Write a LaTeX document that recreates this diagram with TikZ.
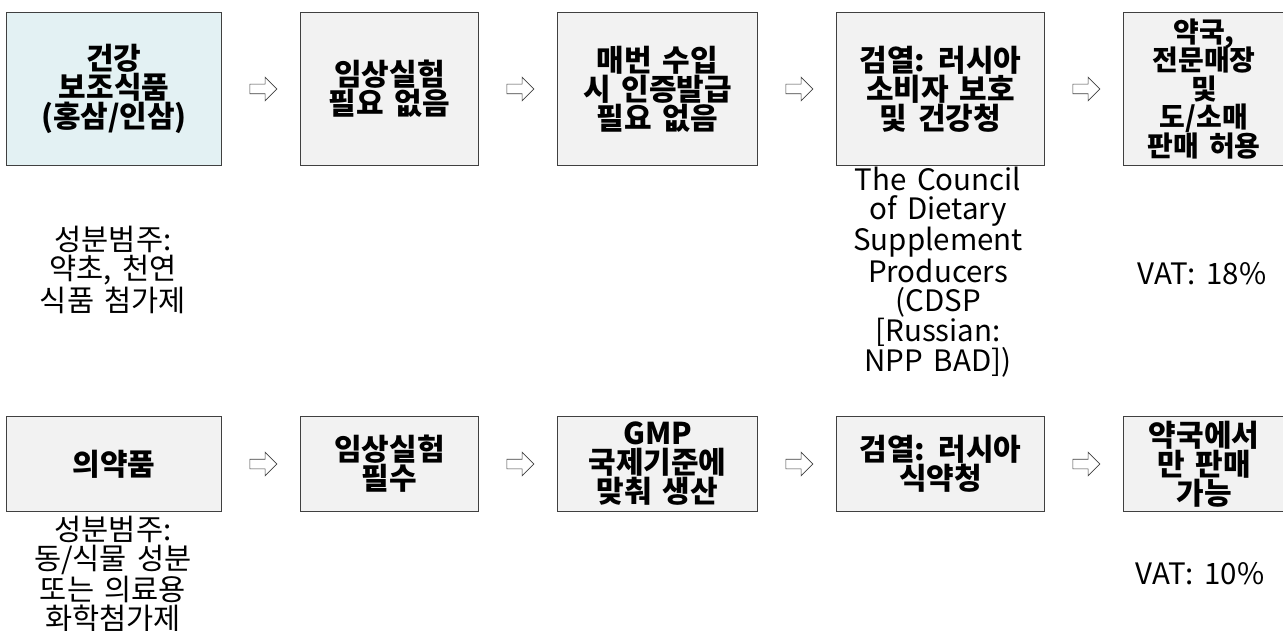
\documentclass[tikz,border=0pt]{standalone}
\usepackage{fontspec}
\setmainfont{Noto Sans CJK KR}[WordSpace=1.6]
\usepackage{tikz}
\usetikzlibrary{positioning, shapes.arrows}
\definecolor{boxgray}{HTML}{F2F2F2}
\definecolor{boxcyan}{HTML}{E3F1F3}
\definecolor{linegray}{HTML}{404040}

\begin{document}
\begin{tikzpicture}[x=1pt, y=-1pt,
  stage/.style={draw=linegray, line width=1pt, fill=boxgray, inner sep=2pt,
                align=center, font=\fontsize{30}{29}\selectfont\bfseries},
  tall/.style={minimum height=153pt},
  flat/.style={minimum height=95pt},
  note/.style={align=center, inner sep=0pt, font=\fontsize{29.5}{29}\selectfont},
  nextarrow/.style={single arrow, draw=linegray, fill=white, line width=0.6pt,
                    minimum height=27pt, inner sep=4.5pt, single arrow head extend=7pt}
]
  \useasboundingbox (0,0) rectangle (1283,631);
  % health supplements
  \node[stage, tall, fill=boxcyan, minimum width=215pt, anchor=north west] (h1) at (6,12) {건강\\보조식품\\(홍삼/인삼)};
  \node[stage, tall, minimum width=178pt, right=78pt of h1] (h2) {임상실험\\필요 없음};
  \node[stage, tall, minimum width=200pt, right=78pt of h2] (h3) {매번 수입\\시 인증발급\\필요 없음};
  \node[stage, tall, minimum width=208pt, right=78pt of h3] (h4) {검열: 러시아\\소비자 보호\\및 건강청};
  \node[stage, tall, minimum width=161pt, right=78pt of h4, font=\fontsize{28}{28.5}\selectfont\bfseries,
        execute at begin node={\lineskiplimit=-100pt\relax}] (h5) {약국,\\전문매장\\및\\도/소매\\판매 허용};
  \path (h1) -- node[nextarrow] (ha1) {} (h2);
  \path (h2) -- node[nextarrow] (ha2) {} (h3);
  \path (h3) -- node[nextarrow] (ha3) {} (h4);
  \path (h4) -- node[nextarrow] (ha4) {} (h5);
  \node[note] (hn1) at (113,270) {성분범주:\\약초, 천연\\식품 첨가제};
  \node[note] (hn4) at (938,272) {The Council\\of Dietary\\Supplement\\Producers\\(CDSP\\{[}Russian:\\NPP BAD])};
  \node[note] (hn5) at (1202,274) {VAT: 18\%};
  % medicines
  \node[stage, flat, minimum width=215pt, below=250pt of h1] (m1) {의약품};
  \node[stage, flat, minimum width=178pt, right=78pt of m1] (m2) {임상실험\\필수};
  \node[stage, flat, minimum width=200pt, right=78pt of m2] (m3) {GMP\\국제기준에\\맞춰 생산};
  \node[stage, flat, minimum width=208pt, right=78pt of m3] (m4) {검열: 러시아\\식약청};
  \node[stage, flat, minimum width=161pt, right=78pt of m4] (m5) {약국에서\\만 판매\\가능};
  \path (m1) -- node[nextarrow] (ma1) {} (m2);
  \path (m2) -- node[nextarrow] (ma2) {} (m3);
  \path (m3) -- node[nextarrow] (ma3) {} (m4);
  \path (m4) -- node[nextarrow] (ma4) {} (m5);
  \node[note] (mn1) at (113,574) {성분범주:\\동/식물 성분\\또는 의료용\\화학첨가제};
  \node[note] (mn5) at (1200,574) {VAT: 10\%};
\end{tikzpicture}
\end{document}
